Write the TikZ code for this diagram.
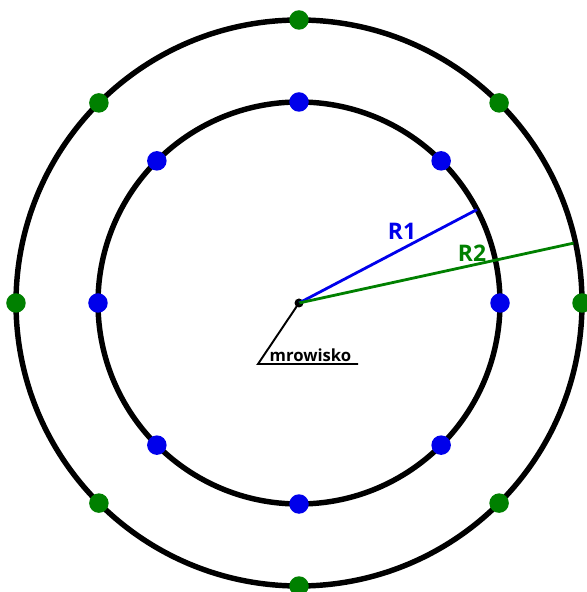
\documentclass[tikz,border=0pt]{standalone}
\usepackage{fontspec}
\setmainfont{Open Sans}
\usepackage{tikz}
\usetikzlibrary{positioning}
\definecolor{dotblue}{RGB}{0,0,235}
\definecolor{dotgreen}{RGB}{0,128,0}

\begin{document}
\begin{tikzpicture}
    \tikzset{
    innerdot/.style={
        circle, fill=dotblue, inner sep=0pt, minimum size=0.39cm
    },
    outerdot/.style={
        circle, fill=dotgreen, inner sep=0pt, minimum size=0.39cm
    },
    ring/.style={line width=3.1pt, black},
    radius/.style={line width=1.6pt},
    rlabel/.style={font=\fontsize{13}{15}\selectfont\bfseries}
    }
        \useasboundingbox (-5.98,-5.78) rectangle (5.74,6.06);

        \node (c)[circle, fill=black, inner sep=0pt, minimum size=0.18cm] at (0,0) {};

        \draw[ring] (c.center) circle (4.02);
        \draw[ring] (c.center) circle (5.66);

        % radii
        \coordinate (r1) at (27.7:4.02);
        \coordinate (r2) at (12.3:5.62);
        \draw[radius, dotblue] (c.center) -- (r1);
        \draw[radius, dotgreen] (c.center) -- (r2);
        \node (R1)[rlabel, text=dotblue] at (2.06,1.44) {R1};
        \node (R2)[rlabel, text=dotgreen] at (3.46,1.0) {R2};

        % inner ring
        \node (i1)[innerdot] at (0:4.02) {};
        \node (i2)[innerdot] at (45:4.02) {};
        \node (i3)[innerdot] at (90:4.02) {};
        \node (i4)[innerdot] at (135:4.02) {};
        \node (i5)[innerdot] at (180:4.02) {};
        \node (i6)[innerdot] at (225:4.02) {};
        \node (i7)[innerdot] at (270:4.02) {};
        \node (i8)[innerdot] at (315:4.02) {};

        % outer ring
        \node (o1)[outerdot] at (0:5.66) {};
        \node (o2)[outerdot] at (45:5.66) {};
        \node (o3)[outerdot] at (90:5.66) {};
        \node (o4)[outerdot] at (135:5.66) {};
        \node (o5)[outerdot] at (180:5.66) {};
        \node (o6)[outerdot] at (225:5.66) {};
        \node (o7)[outerdot] at (270:5.66) {};
        \node (o8)[outerdot] at (315:5.66) {};

        % label
        \coordinate (lb) at (-0.82,-1.22);
        \coordinate (le) at (1.18,-1.22);
        \draw[line width=1.1pt] (c.center) -- (lb) -- (le);
        \node (mr)[anchor=base, font=\fontsize{9.5}{11}\selectfont\bfseries, inner sep=0pt] at (0.23,-1.17) {mrowisko};

    \end{tikzpicture}
\end{document}
